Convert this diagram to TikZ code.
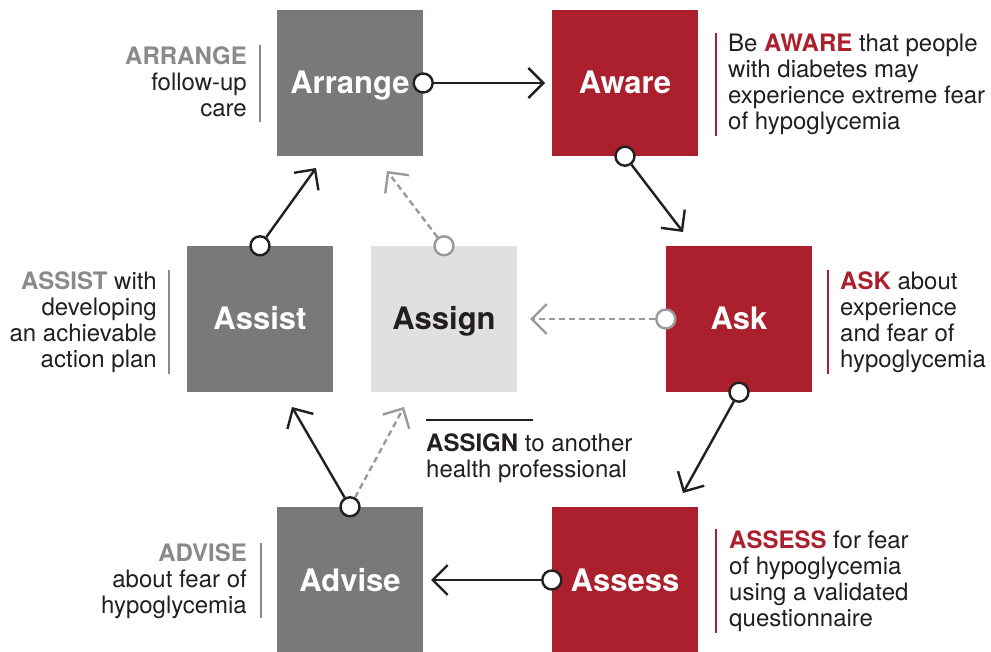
\documentclass[tikz,border=0pt]{standalone}
\usepackage{fontspec}
\setmainfont{TeX Gyre Heros}
\usetikzlibrary{arrows.meta}
\definecolor{boxgray}{HTML}{7A7879}
\definecolor{boxred}{HTML}{AC1F2D}
\definecolor{boxlight}{HTML}{E0E0E0}
\definecolor{txtdark}{HTML}{231F20}
\definecolor{txtgray}{HTML}{8A8A8A}
\definecolor{dashgray}{HTML}{9A9A9A}
\begin{document}
\begin{tikzpicture}[x=1pt,y=-1pt,
  box/.style={minimum size=146pt, inner sep=0pt, text height=22pt, text depth=0pt,
    font=\fontsize{31}{31}\selectfont\bfseries},
  graybox/.style={box, fill=boxgray, text=white},
  redbox/.style={box, fill=boxred, text=white},
  lightbox/.style={box, fill=boxlight, text=txtdark},
  side/.style={inner sep=0pt, text=txtdark, font=\fontsize{24}{26}\selectfont},
  knob/.style={circle, draw=txtdark, fill=white, line width=2.4pt, minimum size=19pt, inner sep=0pt},
  dknob/.style={knob, draw=dashgray},
  conn/.style={draw=txtdark, line width=2.4pt, -{Straight Barb[length=15pt,width=30pt]}},
  dconn/.style={conn, draw=dashgray, dash pattern=on 6pt off 4pt},
  grayrule/.style={draw=txtgray, line width=2.2pt},
  redrule/.style={draw=boxred, line width=2.2pt},
]
\useasboundingbox (0,0) rectangle (991,652);
\fill[white] (0,0) rectangle (991,652);

% boxes
\node[graybox]  (arrange) at (350,83)  {Arrange};
\node[redbox]   (aware)   at (625,83)  {Aware};
\node[graybox]  (assist)  at (260,319) {Assist};
\node[lightbox] (assign)  at (444,319) {Assign};
\node[redbox]   (ask)     at (739,319) {Ask};
\node[graybox]  (advise)  at (350,580) {Advise};
\node[redbox]   (assess)  at (625,580) {Assess};

% side texts (base anchor = baseline of the last line)
\node[side, align=right, anchor=base east] (arrtxt) at (247,117)
  {\textbf{\color{txtgray}ARRANGE}\\follow-up\\care};
\node[side, align=left, anchor=base west] (awtxt) at (728,130)
  {Be \textbf{\color{boxred}AWARE} that people\\with diabetes may\\experience extreme fear\\of hypoglycemia};
\node[side, align=left, anchor=base west] (asktxt) at (840,367)
  {\textbf{\color{boxred}ASK} about\\experience\\and fear of\\hypoglycemia};
\node[side, align=right, anchor=base east] (asstxt) at (157,368)
  {\textbf{\color{txtgray}ASSIST} with\\developing\\an achievable\\action plan};
\node[side, align=left, anchor=base west] (agntxt) at (426,477)
  {\textbf{ASSIGN} to another\\health professional};
\node[side, align=right, anchor=base east] (advtxt) at (247,613)
  {\textbf{\color{txtgray}ADVISE}\\about fear of\\hypoglycemia};
\node[side, align=left, anchor=base west] (asstxt2) at (729,626)
  {\textbf{\color{boxred}ASSESS} for fear\\of hypoglycemia\\using a validated\\questionnaire};

% rules beside texts
\draw[grayrule] (260,45) -- (260,122);
\draw[redrule] (716,33) -- (716,136);
\draw[redrule] (828,270) -- (828,374);
\draw[grayrule] (169,270) -- (169,374);
\draw[txtdark, line width=2pt] (426,420) -- (533,420);
\draw[grayrule] (261,543) -- (261,618);
\draw[redrule] (716,529) -- (716,633);

% knobs
\node[knob]  (k1) at (arrange.east) {};
\node[knob]  (k2) at (aware.south) {};
\node[knob]  (k3) at (ask.south) {};
\node[knob]  (k4) at (assess.west) {};
\node[knob]  (k5) at (advise.north) {};
\node[knob]  (k6) at (assist.north) {};
\node[dknob] (k7) at (assign.north) {};
\node[dknob] (k8) at (ask.west) {};

% arrow tips
\coordinate (t1) at (545,83);
\coordinate (t2) at (683,232);
\coordinate (t3) at (683,493);
\coordinate (t4) at (431,580);
\coordinate (t5) at (292,407);
\coordinate (t6) at (404,407);
\coordinate (t7) at (316,168);
\coordinate (t8) at (387,171);
\coordinate (t9) at (530,319);

\draw[conn] (k1) -- (t1);
\draw[conn] (k2) -- (t2);
\draw[conn] (k3) -- (t3);
\draw[conn] (k4) -- (t4);
\draw[conn] (k5) -- (t5);
\draw[dconn] (k5) -- (t6);
\draw[conn] (k6) -- (t7);
\draw[dconn] (k7) -- (t8);
\draw[dconn] (k8) -- (t9);
\end{tikzpicture}
\end{document}
